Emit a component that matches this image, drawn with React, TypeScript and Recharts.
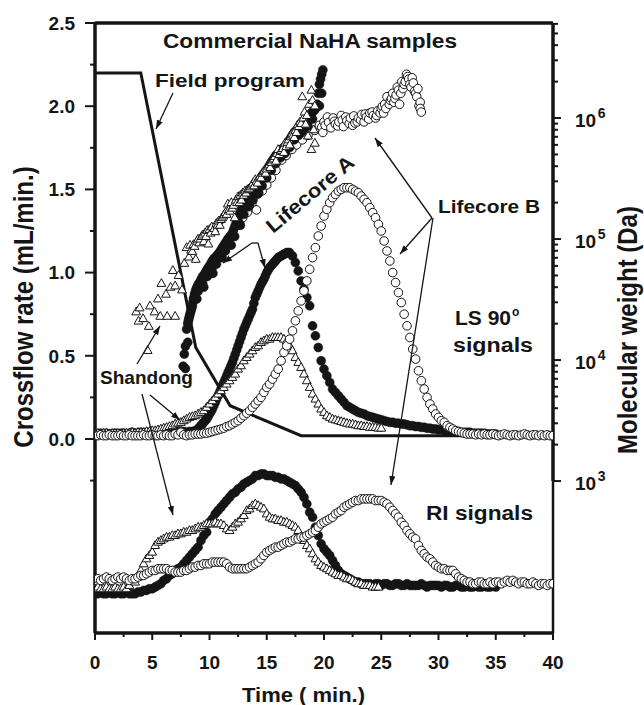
import React from 'react';
import { ComposedChart, Scatter, Line, XAxis, YAxis, ReferenceLine } from 'recharts';

// sampling step (min) of the LS / RI traces
const STEP = 0.25;

// LS 90° signals (left axis units), sampled every STEP minutes from t = 0
const lsLifecoreB = [
  0.02, 0.02, 0.025, 0.02, 0.02, 0.025, 0.02, 0.02,
  0.02, 0.025, 0.02, 0.02, 0.025, 0.02, 0.02, 0.02,
  0.02, 0.025, 0.02, 0.02, 0.025, 0.02, 0.02, 0.025,
  0.02, 0.025, 0.02, 0.02, 0.03, 0.025, 0.04, 0.025,
  0.02, 0.025, 0.025, 0.03, 0.03, 0.03, 0.035, 0.035,
  0.04, 0.045, 0.05, 0.055, 0.06, 0.065, 0.075, 0.08,
  0.09, 0.1, 0.11, 0.125, 0.14, 0.155, 0.17, 0.19,
  0.21, 0.23, 0.25, 0.28, 0.31, 0.33, 0.36, 0.39,
  0.42, 0.47, 0.52, 0.56, 0.6, 0.65, 0.71, 0.77,
  0.83, 0.89, 0.95, 1.02, 1.09, 1.15, 1.22, 1.28,
  1.34, 1.38, 1.42, 1.45, 1.47, 1.49, 1.5, 1.51,
  1.51, 1.51, 1.5, 1.49, 1.48, 1.46, 1.44, 1.42,
  1.39, 1.36, 1.33, 1.29, 1.25, 1.19, 1.13, 1.07,
  1.0, 0.94, 0.88, 0.82, 0.75, 0.68, 0.61, 0.54,
  0.48, 0.41, 0.35, 0.3, 0.25, 0.21, 0.18, 0.15,
  0.13, 0.11, 0.1, 0.08, 0.07, 0.06, 0.05, 0.045,
  0.04, 0.035, 0.03, 0.03, 0.03, 0.025, 0.03, 0.025,
  0.03, 0.025, 0.025, 0.03, 0.025, 0.02, 0.025, 0.03,
  0.025, 0.02, 0.025, 0.025, 0.02, 0.025, 0.03, 0.025,
  0.02, 0.025, 0.025, 0.02, 0.025, 0.02, 0.025, 0.02,
  0.02,
];

const lsLifecoreA = [
  0.03, 0.03, 0.035, 0.03, 0.035, 0.03, 0.03, 0.035,
  0.03, 0.035, 0.035, 0.03, 0.035, 0.04, 0.035, 0.035,
  0.04, 0.035, 0.04, 0.035, 0.04, 0.04, 0.035, 0.04,
  0.04, 0.04, 0.045, 0.04, 0.04, 0.045, 0.04, 0.045,
  0.04, 0.045, 0.045, 0.05, 0.06, 0.08, 0.1, 0.12,
  0.15, 0.18, 0.22, 0.26, 0.3, 0.34, 0.38, 0.42,
  0.46, 0.51, 0.56, 0.61, 0.66, 0.7, 0.74, 0.78,
  0.85, 0.89, 0.93, 0.96, 1.0, 1.03, 1.05, 1.07,
  1.09, 1.1, 1.11, 1.12, 1.12, 1.1, 1.06, 1.01,
  0.95, 0.9, 0.85, 0.8, 0.68, 0.62, 0.55, 0.47,
  0.42, 0.38, 0.34, 0.3, 0.28, 0.26, 0.24, 0.22,
  0.2, 0.19, 0.18, 0.17, 0.16, 0.155, 0.15, 0.14,
  0.135, 0.13, 0.125, 0.12, 0.115, 0.11, 0.105, 0.1,
  0.1, 0.095, 0.095, 0.09, 0.09, 0.085, 0.08, 0.08,
  0.075, 0.075, 0.07, 0.07, 0.065, 0.065, 0.06, 0.06,
  0.055, 0.055, 0.05, 0.05, 0.05, 0.045, 0.045, 0.045,
  0.04, 0.04, 0.04, 0.04, 0.035, 0.035, 0.035, 0.035,
  0.035, 0.03, 0.03, 0.03, 0.03,
];

// Lifecore A LS: extra readings on the dense rising band (t, value)
const lsLifecoreARise: [number, number][] = [
  [9.125, 0.07], [9.375, 0.09], [9.625, 0.11], [9.875, 0.135], [10.125, 0.165], [10.375, 0.2],
  [10.625, 0.24], [10.875, 0.28], [11.125, 0.32], [11.375, 0.36], [11.625, 0.4], [11.875, 0.44],
  [12.125, 0.485], [12.375, 0.535], [12.625, 0.585], [12.875, 0.635], [13.125, 0.68], [13.375, 0.72],
  [13.625, 0.76], [13.875, 0.815], [14.125, 0.87], [14.375, 0.91], [14.625, 0.945], [14.875, 0.98],
  [15.125, 1.015], [15.375, 1.04], [15.625, 1.06], [15.875, 1.08], [16.125, 1.095], [16.375, 1.105],
  [16.625, 1.115], [16.875, 1.12],
];

const lsShandong = [
  0.03, 0.035, 0.03, 0.035, 0.035, 0.03, 0.035, 0.035,
  0.035, 0.03, 0.035, 0.035, 0.035, 0.04, 0.035, 0.04,
  0.04, 0.04, 0.045, 0.045, 0.05, 0.05, 0.055, 0.06,
  0.065, 0.07, 0.075, 0.08, 0.09, 0.095, 0.1, 0.11,
  0.12, 0.13, 0.135, 0.14, 0.15, 0.16, 0.17, 0.19,
  0.21, 0.23, 0.25, 0.27, 0.29, 0.31, 0.33, 0.35,
  0.37, 0.39, 0.42, 0.44, 0.47, 0.49, 0.51, 0.53,
  0.55, 0.56, 0.58, 0.59, 0.6, 0.6, 0.61, 0.61,
  0.61, 0.61, 0.6, 0.59, 0.56, 0.53, 0.49, 0.46,
  0.43, 0.39, 0.35, 0.31, 0.27, 0.24, 0.21, 0.18,
  0.16, 0.14, 0.13, 0.12, 0.115, 0.11, 0.105, 0.1,
  0.095, 0.09, 0.09, 0.085, 0.08, 0.08, 0.075, 0.075,
  0.07, 0.07, 0.07, 0.065, 0.065,
];

// RI signals (plotted below zero on the left axis), sampled every STEP minutes from t = 0
const riLifecoreB = [
  -0.85, -0.84, -0.85, -0.84, -0.83, -0.84, -0.85, -0.84,
  -0.83, -0.84, -0.83, -0.84, -0.85, -0.84, -0.84, -0.83,
  -0.82, -0.82, -0.81, -0.8, -0.79, -0.79, -0.78, -0.78,
  -0.78, -0.78, -0.79, -0.79, -0.8, -0.8, -0.8, -0.79,
  -0.79, -0.78, -0.77, -0.77, -0.76, -0.76, -0.75, -0.75,
  -0.75, -0.74, -0.74, -0.74, -0.74, -0.74, -0.75, -0.77,
  -0.78, -0.78, -0.78, -0.78, -0.78, -0.78, -0.77, -0.76,
  -0.75, -0.74, -0.72, -0.7, -0.68, -0.67, -0.66, -0.65,
  -0.65, -0.64, -0.63, -0.62, -0.62, -0.61, -0.6, -0.6,
  -0.59, -0.59, -0.58, -0.57, -0.56, -0.55, -0.53, -0.51,
  -0.5, -0.49, -0.48, -0.47, -0.45, -0.44, -0.43, -0.41,
  -0.4, -0.39, -0.38, -0.37, -0.37, -0.36, -0.36, -0.36,
  -0.36, -0.36, -0.37, -0.37, -0.37, -0.38, -0.39, -0.41,
  -0.43, -0.45, -0.47, -0.5, -0.52, -0.55, -0.57, -0.59,
  -0.6, -0.64, -0.67, -0.69, -0.71, -0.72, -0.74, -0.76,
  -0.77, -0.78, -0.78, -0.79, -0.79, -0.79, -0.81, -0.83,
  -0.84, -0.85, -0.86, -0.86, -0.87, -0.87, -0.86, -0.86,
  -0.87, -0.87, -0.86, -0.87, -0.86, -0.86, -0.87, -0.86,
  -0.85, -0.86, -0.85, -0.86, -0.87, -0.86, -0.86, -0.87,
  -0.87, -0.86, -0.87, -0.88, -0.87, -0.87, -0.88, -0.87,
  -0.87,
];

const riLifecoreA = [
  -0.93, -0.93, -0.92, -0.93, -0.93, -0.92, -0.93, -0.93,
  -0.92, -0.93, -0.93, -0.92, -0.93, -0.93, -0.93, -0.92,
  -0.92, -0.91, -0.91, -0.9, -0.9, -0.89, -0.88, -0.87,
  -0.85, -0.84, -0.82, -0.81, -0.79, -0.78, -0.77, -0.75,
  -0.73, -0.71, -0.69, -0.67, -0.65, -0.61, -0.58, -0.56,
  -0.5, -0.48, -0.45, -0.43, -0.41, -0.39, -0.37, -0.35,
  -0.33, -0.32, -0.3, -0.29, -0.27, -0.26, -0.25, -0.24,
  -0.22, -0.22, -0.21, -0.21, -0.22, -0.22, -0.22, -0.23,
  -0.23, -0.24, -0.24, -0.25, -0.26, -0.27, -0.28, -0.3,
  -0.32, -0.35, -0.39, -0.44, -0.47, -0.53, -0.58, -0.63,
  -0.66, -0.68, -0.7, -0.73, -0.76, -0.79, -0.81, -0.82,
  -0.83, -0.84, -0.85, -0.86, -0.86, -0.87, -0.87, -0.87,
  -0.87, -0.88, -0.87, -0.87, -0.88, -0.87, -0.87, -0.88,
  -0.88, -0.87, -0.87, -0.88, -0.88, -0.87, -0.88, -0.88,
  -0.88, -0.88, -0.87, -0.88, -0.89, -0.88, -0.88, -0.88,
  -0.88, -0.89, -0.88, -0.88, -0.89, -0.89, -0.88, -0.88,
  -0.89, -0.89, -0.88, -0.89, -0.89, -0.88, -0.89, -0.89,
  -0.88, -0.89, -0.89, -0.88, -0.89,
];

const riShandong = [
  -0.9, -0.89, -0.9, -0.9, -0.89, -0.9, -0.9, -0.89,
  -0.9, -0.9, -0.89, -0.9, -0.88, -0.85, -0.86, -0.83,
  -0.79, -0.75, -0.72, -0.7, -0.68, -0.64, -0.62, -0.61,
  -0.6, -0.59, -0.59, -0.58, -0.58, -0.57, -0.57, -0.56,
  -0.56, -0.55, -0.55, -0.54, -0.53, -0.53, -0.52, -0.51,
  -0.51, -0.51, -0.5, -0.51, -0.51, -0.52, -0.54, -0.55,
  -0.53, -0.51, -0.5, -0.48, -0.46, -0.43, -0.42, -0.4,
  -0.39, -0.4, -0.41, -0.42, -0.45, -0.47, -0.48, -0.48,
  -0.49, -0.49, -0.5, -0.5, -0.51, -0.52, -0.53, -0.55,
  -0.59, -0.61, -0.64, -0.66, -0.69, -0.72, -0.74, -0.76,
  -0.77, -0.78, -0.79, -0.8, -0.81, -0.82, -0.82, -0.83,
  -0.84, -0.84, -0.85, -0.86, -0.87, -0.87, -0.88, -0.88,
  -0.88, -0.89, -0.89, -0.89,
];

// Molecular weight (Da, right log axis): [time (min), Mw]
const mwShandong: [number, number][] = [
  [3.6, 2.5e4], [3.8, 2.1e4], [3.9, 2.7e4], [4.2, 2.2e4], [4.6, 1.2e4], [4.7, 1.9e4],
  [4.8, 2.8e4], [5.2, 2.5e4], [5.5, 3.2e4], [5.7, 2.3e4], [5.8, 4.3e4], [6.2, 3.5e4],
  [6.3, 2.3e4], [6.6, 4.0e4], [6.8, 5.5e4], [7.0, 4.1e4], [7.0, 2.3e4], [7.3, 5.0e4],
  [7.6, 3.8e4], [7.8, 6.3e4], [8.0, 8.5e4], [8.2, 7.1e4], [8.3, 8.9e4], [8.4, 8.1e4],
  [8.5, 7.9e4], [8.6, 9.0e4], [8.7, 8.7e4], [8.8, 6.8e4], [8.9, 9.6e4], [9.0, 1.0e5],
  [9.1, 9.3e4], [9.2, 1.0e5], [9.3, 1.05e5], [9.4, 1.08e5], [9.5, 9.5e4], [9.6, 1.12e5],
  [9.7, 1.05e5], [9.8, 1.18e5], [9.9, 9.1e4], [10.0, 1.2e5], [10.1, 1.12e5], [10.2, 1.26e5],
  [10.4, 1.22e5], [10.5, 1.15e5], [10.6, 1.35e5], [10.7, 1.3e5], [10.8, 1.41e5], [10.9, 1.3e5],
  [11.0, 1.45e5], [11.1, 1.5e5], [11.2, 1.55e5], [11.3, 1.6e5], [11.4, 1.66e5], [11.5, 1.6e5],
  [11.6, 1.95e5], [11.7, 1.75e5], [11.8, 1.7e5], [11.9, 2.0e5], [12.0, 1.8e5], [12.1, 1.9e5],
  [12.2, 1.5e5], [12.3, 2.1e5], [12.4, 2.0e5], [12.5, 2.24e5], [12.6, 2.0e5], [12.7, 2.3e5],
  [12.8, 2.1e5], [12.9, 2.4e5], [13.0, 2.3e5], [13.1, 2.5e5], [13.2, 2.4e5], [13.3, 2.55e5],
  [13.4, 2.6e5], [13.5, 2.6e5], [13.6, 2.7e5], [13.7, 2.8e5], [13.8, 2.9e5], [13.9, 2.75e5],
  [14.0, 3.1e5], [14.1, 3.0e5], [14.2, 2.9e5], [14.3, 3.2e5], [14.4, 3.3e5], [14.5, 3.2e5],
  [14.6, 3.5e5], [14.7, 3.6e5], [14.8, 3.7e5], [14.9, 3.5e5], [15.0, 3.8e5], [15.1, 4.0e5],
  [15.2, 4.1e5], [15.3, 3.9e5], [15.4, 4.3e5], [15.5, 4.5e5], [15.6, 4.6e5], [15.7, 4.8e5],
  [15.8, 4.4e5], [15.9, 5.1e5], [16.0, 5.5e5], [16.1, 5.0e5], [16.2, 5.3e5], [16.3, 5.4e5],
  [16.4, 5.6e5], [16.5, 5.2e5], [16.6, 6.2e5], [16.7, 5.8e5], [16.8, 6.3e5], [16.9, 6.6e5],
  [17.0, 6.0e5], [17.1, 7.0e5], [17.2, 7.4e5], [17.3, 7.2e5], [17.4, 6.9e5], [17.5, 7.9e5],
  [17.6, 7.6e5], [17.7, 8.8e5], [17.8, 8.5e5], [17.9, 9.3e5], [18.0, 9.0e5], [18.1, 1.5e6],
  [18.2, 1.0e6], [18.3, 1.12e6], [18.4, 8.9e5], [18.5, 1.05e6], [18.6, 7.1e5], [18.7, 1.3e6],
  [18.9, 1.7e6], [18.9, 5.5e5], [19.0, 1.4e6], [19.1, 8.0e5], [19.2, 6.2e5], [19.2, 1.26e6],
];

const mwLifecoreA: [number, number][] = [
  [7.7, 8.9e3], [7.8, 1.12e4], [7.9, 8.5e3], [7.9, 1.3e4], [8.0, 1.8e4], [8.1, 2.0e4],
  [8.1, 1.4e4], [8.15, 2.1e4], [8.2, 2.2e4], [8.25, 2.3e4], [8.3, 2.4e4], [8.35, 2.5e4],
  [8.4, 2.6e4], [8.45, 2.7e4], [8.5, 2.8e4], [8.55, 3.0e4], [8.6, 3.2e4], [8.65, 3.3e4],
  [8.7, 3.5e4], [8.75, 3.6e4], [8.8, 3.8e4], [8.9, 3.2e4], [8.9, 4.0e4], [9.0, 4.2e4],
  [9.0, 3.7e4], [9.1, 4.3e4], [9.2, 4.5e4], [9.3, 4.7e4], [9.4, 4.9e4], [9.4, 4.3e4],
  [9.5, 4.0e4], [9.5, 5.0e4], [9.6, 5.2e4], [9.7, 5.4e4], [9.8, 5.6e4], [9.8, 4.9e4],
  [9.9, 5.8e4], [10.0, 6.0e4], [10.1, 6.2e4], [10.2, 6.5e4], [10.2, 5.6e4], [10.3, 5.2e4],
  [10.3, 6.7e4], [10.4, 6.9e4], [10.5, 7.0e4], [10.6, 7.2e4], [10.6, 6.2e4], [10.7, 7.4e4],
  [10.8, 7.6e4], [10.9, 7.8e4], [11.0, 8.1e4], [11.0, 7.0e4], [11.1, 7.1e4], [11.1, 8.4e4],
  [11.2, 8.7e4], [11.3, 9.0e4], [11.4, 9.3e4], [11.4, 8.0e4], [11.5, 9.6e4], [11.6, 1.0e5],
  [11.7, 1.02e5], [11.8, 1.05e5], [11.8, 9.0e4], [11.9, 8.9e4], [11.9, 1.08e5], [12.0, 1.12e5],
  [12.1, 1.19e5], [12.2, 1.26e5], [12.2, 1.05e5], [12.3, 1.33e5], [12.4, 1.41e5], [12.5, 1.5e5],
  [12.6, 1.58e5], [12.6, 1.35e5], [12.7, 1.3e5], [12.7, 1.66e5], [12.8, 1.74e5], [12.9, 1.8e5],
  [13.0, 1.86e5], [13.0, 1.6e5], [13.1, 1.93e5], [13.2, 2.0e5], [13.3, 2.05e5], [13.4, 2.1e5],
  [13.4, 1.85e5], [13.5, 1.9e5], [13.5, 2.2e5], [13.6, 2.3e5], [13.7, 2.35e5], [13.8, 2.4e5],
  [13.8, 2.1e5], [13.9, 2.45e5], [14.0, 2.5e5], [14.1, 2.6e5], [14.2, 2.7e5], [14.2, 2.35e5],
  [14.3, 2.4e5], [14.3, 2.8e5], [14.4, 2.9e5], [14.5, 3.05e5], [14.6, 3.2e5], [14.6, 2.75e5],
  [14.7, 3.35e5], [14.8, 3.5e5], [14.9, 3.6e5], [15.0, 3.7e5], [15.0, 3.2e5], [15.1, 3.85e5],
  [15.2, 4.0e5], [15.3, 4.15e5], [15.4, 4.3e5], [15.4, 3.7e5], [15.5, 4.45e5], [15.6, 4.6e5],
  [15.7, 4.75e5], [15.8, 4.9e5], [15.8, 4.2e5], [15.9, 5.0e5], [16.0, 5.1e5], [16.1, 5.25e5],
  [16.2, 5.4e5], [16.2, 4.7e5], [16.3, 5.5e5], [16.4, 5.6e5], [16.5, 5.7e5], [16.6, 5.8e5],
  [16.6, 5.1e5], [16.7, 6.0e5], [16.8, 6.2e5], [16.9, 6.4e5], [17.0, 6.6e5], [17.0, 5.7e5],
  [17.1, 6.85e5], [17.2, 7.1e5], [17.3, 7.35e5], [17.4, 7.6e5], [17.4, 6.6e5], [17.5, 7.75e5],
  [17.6, 7.9e5], [17.7, 8.1e5], [17.8, 8.3e5], [17.8, 7.2e5], [17.9, 8.4e5], [18.0, 8.5e5],
  [18.1, 8.7e5], [18.2, 8.9e5], [18.2, 7.8e5], [18.3, 9.2e5], [18.4, 9.5e5], [18.5, 9.7e5],
  [18.6, 1.0e6], [18.6, 8.6e5], [18.7, 1.03e6], [18.8, 1.07e6], [18.9, 1.1e6], [19.0, 1.12e6],
  [19.0, 9.8e5], [19.1, 1.15e6], [19.2, 1.17e6], [19.3, 1.22e6], [19.4, 1.3e6], [19.5, 1.6e6],
  [19.6, 1.26e6], [19.6, 1.9e6], [19.7, 2.1e6], [19.8, 1.6e6], [19.8, 2.3e6], [19.9, 2.5e6],
];

const mwLifecoreB: [number, number][] = [
  [12.5, 1.3e5], [12.9, 1.5e5], [13.3, 1.66e5], [13.7, 1.95e5], [14.1, 1.74e5], [14.2, 2.4e5],
  [14.6, 2.5e5], [15.0, 2.8e5], [15.4, 3.2e5], [15.8, 3.7e5], [16.3, 4.5e5], [16.7, 4.9e5],
  [17.2, 5.5e5], [17.6, 6.0e5], [18.1, 6.6e5], [18.6, 7.2e5], [19.2, 7.9e5], [19.6, 8.7e5],
  [19.8, 8.4e5], [19.9, 7.6e5], [20.0, 9.3e5], [20.1, 8.7e5], [20.3, 1.02e6], [20.4, 9.2e5],
  [20.6, 8.3e5], [20.8, 1.0e6], [20.9, 9.4e5], [21.0, 8.9e5], [21.2, 8.6e5], [21.3, 9.3e5],
  [21.5, 1.05e6], [21.6, 9.6e5], [21.7, 8.5e5], [21.9, 1.02e6], [22.0, 9.5e5], [22.2, 9.0e5],
  [22.3, 1.0e6], [22.5, 8.7e5], [22.6, 1.04e6], [22.7, 9.1e5], [22.9, 9.3e5], [23.0, 1.0e6],
  [23.2, 9.6e5], [23.3, 1.07e6], [23.5, 9.3e5], [23.6, 1.08e6], [23.7, 1.02e6], [23.9, 9.8e5],
  [24.0, 1.1e6], [24.2, 1.12e6], [24.3, 1.05e6], [24.5, 1.0e6], [24.6, 1.05e6], [24.7, 1.15e6],
  [24.9, 1.1e6], [25.0, 1.2e6], [25.1, 1.25e6], [25.2, 1.1e6], [25.3, 1.3e6], [25.4, 1.2e6],
  [25.5, 1.5e6], [25.7, 1.3e6], [25.8, 1.4e6], [25.9, 1.45e6], [26.0, 1.6e6], [26.1, 1.35e6],
  [26.2, 1.45e6], [26.3, 1.55e6], [26.4, 1.8e6], [26.5, 1.7e6], [26.6, 1.3e6], [26.7, 1.6e6],
  [26.8, 2.0e6], [26.9, 1.75e6], [27.0, 1.9e6], [27.1, 2.0e6], [27.2, 2.3e6], [27.3, 2.2e6],
  [27.4, 2.1e6], [27.5, 1.9e6], [27.6, 1.8e6], [27.7, 2.15e6], [27.8, 1.95e6], [27.9, 1.66e6],
  [28.0, 1.6e6], [28.1, 1.5e6], [28.2, 1.75e6], [28.3, 1.26e6], [28.4, 1.35e6], [28.4, 1.2e6],
  [28.5, 1.12e6],
];

// Field program (crossflow rate, mL/min): [time, rate]
const fieldProgram: [number, number][] = [
  [0, 2.2], [4, 2.2], [8.8, 0.55], [11.8, 0.2], [18, 0.02], [40, 0.02],
];

// axis ticks
const xTicks = [0, 2.5, 5, 7.5, 10, 12.5, 15, 17.5, 20, 22.5, 25, 27.5, 30, 32.5, 35, 37.5, 40];
const leftTicks = [-0.25, 0, 0.25, 0.5, 0.75, 1, 1.25, 1.5, 1.75, 2, 2.25, 2.5];
const rightTicks = [
  1e3, 2e3, 3e3, 4e3, 5e3, 6e3, 7e3, 8e3, 9e3,
  1e4, 2e4, 3e4, 4e4, 5e4, 6e4, 7e4, 8e4, 9e4,
  1e5, 2e5, 3e5, 4e5, 5e5, 6e5, 7e5, 8e5, 9e5,
  1e6, 2e6, 3e6, 4e6, 5e6, 6e6,
];

const LEFT_DOMAIN: [number, number] = [-1.166, 2.5];
const RIGHT_DOMAIN: [number, number] = [55.5, 6.1e6];

const sampled = (vals: number[]) => vals.map((y, i) => ({ x: i * STEP, y }));
const pairs = (p: [number, number][]) => p.map(([x, y]) => ({ x, y }));

const INK = '#151515';
const FONT = "'Liberation Sans', Arial, Helvetica, sans-serif";

const OpenCircle = (p: any) =>
  p.cx == null ? null : <circle cx={p.cx} cy={p.cy} r={4.3} fill="#fff" stroke={INK} strokeWidth={1} />;
const FilledCircle = (p: any) =>
  p.cx == null ? null : <circle cx={p.cx} cy={p.cy} r={4.5} fill={INK} stroke={INK} strokeWidth={0.5} />;
const Triangle = (p: any) =>
  p.cx == null ? null : (
    <path
      d={`M${p.cx},${p.cy - 4.8}L${p.cx + 4.4},${p.cy + 3}L${p.cx - 4.4},${p.cy + 3}Z`}
      fill="#fff"
      stroke={INK}
      strokeWidth={1}
    />
  );

const LeftTick = (p: any) => {
  const v = p.payload.value;
  const major = v >= 0 && Math.abs(v * 2 - Math.round(v * 2)) < 1e-6;
  return (
    <g>
      <line x1={p.x} x2={p.x - (major ? 10 : 5)} y1={p.y} y2={p.y} stroke={INK} strokeWidth={2} />
      {major && (
        <text x={p.x - 20} y={p.y + 6.8} textAnchor="end" fontSize={19} fontWeight={700} fontFamily={FONT} fill={INK}>
          {v.toFixed(1)}
        </text>
      )}
    </g>
  );
};

const XTick = (p: any) => {
  const v = p.payload.value;
  const major = Math.abs(v / 5 - Math.round(v / 5)) < 1e-6;
  return (
    <g>
      <line x1={p.x} x2={p.x} y1={p.y} y2={p.y + (major ? 7 : 4)} stroke={INK} strokeWidth={2} />
      {major && (
        <text x={p.x} y={p.y + 36} textAnchor="middle" fontSize={19} fontWeight={700} fontFamily={FONT} fill={INK}>
          {v}
        </text>
      )}
    </g>
  );
};

const RightTick = (p: any) => {
  const v = p.payload.value;
  const lg = Math.log10(v);
  const e = Math.round(lg);
  const major = Math.abs(lg - e) < 1e-6;
  return (
    <g>
      <line x1={p.x} x2={p.x + (major ? 8 : 5)} y1={p.y} y2={p.y} stroke={INK} strokeWidth={2} />
      {major && (
        <text x={p.x + 22} y={p.y + 8.7} fontSize={19} fontWeight={700} fontFamily={FONT} fill={INK}>
          10
          <tspan dx={1.5} dy={-9} fontSize={14}>
            {e}
          </tspan>
        </text>
      )}
    </g>
  );
};

const txt = { fontFamily: FONT, fontWeight: 700, fill: INK } as const;

const Arrow = ({ a, b }: { a: [number, number]; b: [number, number] }) => (
  <line x1={a[0]} y1={a[1]} x2={b[0]} y2={b[1]} stroke={INK} strokeWidth={1.3} markerEnd="url(#ah)" />
);

export default function App() {
  return (
    <div style={{ position: 'absolute', left: 0, top: 0, width: 644, height: 705, background: '#fff' }}>
      <ComposedChart width={644} height={705} margin={{ top: 23, right: 0, bottom: 0, left: 0 }}>
        <XAxis
          xAxisId="x"
          type="number"
          dataKey="x"
          domain={[0, 40]}
          ticks={xTicks}
          interval={0}
          height={72}
          tickSize={0}
          tickMargin={0}
          tick={<XTick />}
          axisLine={{ stroke: INK, strokeWidth: 3.5 }}
          allowDataOverflow
        />
        <YAxis
          yAxisId="left"
          type="number"
          dataKey="y"
          orientation="left"
          domain={LEFT_DOMAIN}
          ticks={leftTicks}
          interval={0}
          width={95}
          tickSize={0}
          tickMargin={0}
          tick={<LeftTick />}
          axisLine={{ stroke: INK, strokeWidth: 3.5 }}
          allowDataOverflow
        />
        <YAxis
          yAxisId="right"
          type="number"
          dataKey="y"
          orientation="right"
          scale="log"
          domain={RIGHT_DOMAIN}
          ticks={rightTicks}
          interval={0}
          width={91}
          tickSize={0}
          tickMargin={0}
          tick={<RightTick />}
          axisLine={false}
          allowDataOverflow
        />
        <ReferenceLine xAxisId="x" yAxisId="left" y={2.5} stroke={INK} strokeWidth={3.5} ifOverflow="visible" />
        <ReferenceLine
          xAxisId="x"
          yAxisId="right"
          segment={[{ x: 40, y: RIGHT_DOMAIN[1] }, { x: 40, y: 1000 }]}
          stroke={INK}
          strokeWidth={3.5}
          ifOverflow="visible"
        />
        <ReferenceLine
          xAxisId="x"
          yAxisId="right"
          segment={[{ x: 40, y: 1000 }, { x: 40, y: RIGHT_DOMAIN[0] }]}
          stroke={INK}
          strokeWidth={2.5}
          ifOverflow="visible"
        />

        {/* RI signals */}
        <Scatter xAxisId="x" yAxisId="left" data={sampled(riLifecoreA)} shape={FilledCircle} isAnimationActive={false} />
        <Scatter xAxisId="x" yAxisId="left" data={sampled(riShandong)} shape={Triangle} isAnimationActive={false} />
        <Scatter xAxisId="x" yAxisId="left" data={sampled(riLifecoreB)} shape={OpenCircle} isAnimationActive={false} />

        {/* LS 90 signals */}
        <Scatter xAxisId="x" yAxisId="left" data={sampled(lsLifecoreA)} shape={FilledCircle} isAnimationActive={false} />
        <Scatter xAxisId="x" yAxisId="left" data={pairs(lsLifecoreARise)} shape={FilledCircle} isAnimationActive={false} />
        <Scatter xAxisId="x" yAxisId="left" data={sampled(lsShandong)} shape={Triangle} isAnimationActive={false} />
        <Scatter xAxisId="x" yAxisId="left" data={sampled(lsLifecoreB)} shape={OpenCircle} isAnimationActive={false} />

        {/* Molecular weight */}
        <Scatter xAxisId="x" yAxisId="right" data={pairs(mwLifecoreB)} shape={OpenCircle} isAnimationActive={false} />
        <Scatter xAxisId="x" yAxisId="right" data={pairs(mwLifecoreA)} shape={FilledCircle} isAnimationActive={false} />
        <Scatter xAxisId="x" yAxisId="right" data={pairs(mwShandong)} shape={Triangle} isAnimationActive={false} />

        {/* Field program */}
        <Line
          xAxisId="x"
          yAxisId="left"
          data={pairs(fieldProgram)}
          dataKey="y"
          type="linear"
          stroke={INK}
          strokeWidth={3}
          dot={false}
          activeDot={false}
          isAnimationActive={false}
        />
      </ComposedChart>

      <svg
        width={644}
        height={705}
        style={{ position: 'absolute', left: 0, top: 0, pointerEvents: 'none', overflow: 'hidden' }}
      >
        <defs>
          <marker
            id="ah"
            viewBox="0 0 10 10"
            refX="10"
            refY="5"
            markerWidth="9"
            markerHeight="9"
            markerUnits="userSpaceOnUse"
            orient="auto"
          >
            <path d="M0,1.5 L10,5 L0,8.5 Z" fill={INK} />
          </marker>
        </defs>

        {/* arrows */}
        <Arrow a={[173, 93]} b={[156, 129]} />
        <line x1={252} y1={243} x2={258} y2={243} stroke={INK} strokeWidth={1.3} />
        <Arrow a={[252, 243]} b={[223, 263]} />
        <Arrow a={[258, 243]} b={[265, 268]} />
        <Arrow a={[432, 218]} b={[375, 138]} />
        <Arrow a={[432, 218]} b={[400, 254]} />
        <Arrow a={[433, 218]} b={[391, 485]} />
        <Arrow a={[137, 364]} b={[160, 326]} />
        <Arrow a={[150, 395]} b={[180, 420]} />
        <Arrow a={[142, 394]} b={[173, 515]} />

        {/* annotation texts */}
        <text x={163} y={48} fontSize={20} textLength={294} lengthAdjust="spacingAndGlyphs" {...txt}>
          Commercial NaHA samples
        </text>
        <text x={155} y={87} fontSize={19} textLength={150} lengthAdjust="spacingAndGlyphs" {...txt}>
          Field program
        </text>
        <text
          transform="translate(273,234) rotate(-40)"
          x={0}
          y={0}
          fontSize={20}
          textLength={108}
          lengthAdjust="spacingAndGlyphs"
          {...txt}
        >
          Lifecore A
        </text>
        <text x={438} y={213} fontSize={19} textLength={102} lengthAdjust="spacingAndGlyphs" {...txt}>
          Lifecore B
        </text>
        <text x={455} y={325} fontSize={21} {...txt}>
          LS 90
          <tspan dx={1} dy={-9} fontSize={12}>
            o
          </tspan>
        </text>
        <text x={453} y={352} fontSize={20} textLength={80} lengthAdjust="spacingAndGlyphs" {...txt}>
          signals
        </text>
        <text x={426} y={520} fontSize={20} textLength={107} lengthAdjust="spacingAndGlyphs" {...txt}>
          RI signals
        </text>
        <text x={100} y={384} fontSize={19} textLength={93} lengthAdjust="spacingAndGlyphs" {...txt}>
          Shandong
        </text>

        {/* axis titles */}
        <text x={242} y={702} fontSize={21} textLength={123} lengthAdjust="spacingAndGlyphs" {...txt}>
          Time ( min.)
        </text>
        <text transform="translate(33,307) scale(1.15,1) rotate(-90)" textAnchor="middle" fontSize={24} {...txt}>
          Crossflow rate (mL/min.)
        </text>
        <text transform="translate(637,330) scale(1.12,1) rotate(-90)" textAnchor="middle" fontSize={24} {...txt}>
          Molecular weight (Da)
        </text>
      </svg>
    </div>
  );
}
